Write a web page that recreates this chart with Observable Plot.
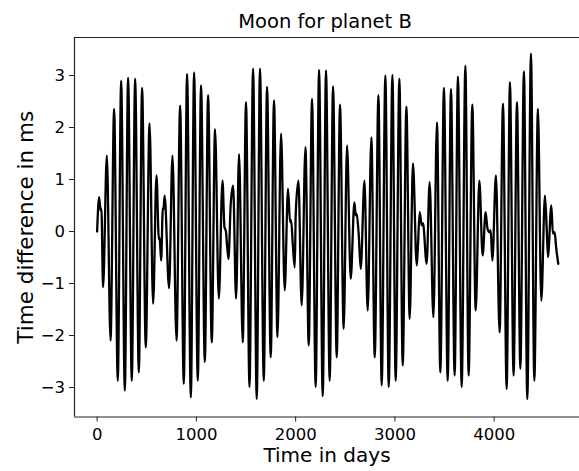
<!DOCTYPE html>
<html>
<head>
<meta charset="utf-8">
<script src="https://cdn.jsdelivr.net/npm/d3@7"></script>
<script src="https://cdn.jsdelivr.net/npm/@observablehq/plot@0.6"></script>
<style>
  html, body { margin: 0; padding: 0; background: #fff; }
</style>
</head>
<body>
<div id="chart"></div>
<script>
// Time in days (extrema and kinks)
const days = [0,20,35,43,60,98,135,171,208,242,279,312,349,383,420,453,490,528,564,598,622,630,645,662,668,680,
  725,759,800,836,873,906,944,977,1014,1047,1085,1118,1155,1188,1226,1263,1283,1296,1323,1346,1370,
  1400,1430,1467,1500,1535,1571,1608,1641,1679,1712,1749,1782,1817,1853,1890,1923,1944,1955,1971,1991,2001,2028,
  2061,2099,2132,2165,2202,2236,2273,2306,2343,2377,2414,2447,2484,2518,2555,2592,2605,2615,2635,2656,2693,
  2726,2763,2797,2834,2867,2904,2938,2975,3008,3045,3079,3116,3149,3182,3220,3230,3250,3270,3283,3320,3350,
  3388,3424,3458,3494,3532,3565,3602,3635,3673,3710,3743,3780,3814,3851,3884,3914,3931,3948,3965,3982,4018,
  4055,4089,4126,4159,4196,4230,4264,4300,4334,4371,4405,4441,4475,4512,4529,4542,4576,4592,4609,4626,4646];
// Time difference in ms
const ms = [0,0.66,0.40,0.44,-1.07,1.46,-2.10,2.36,-2.87,2.90,-3.06,2.96,-2.87,2.94,-2.71,2.76,-2.23,2.08,-1.39,1.08,-0.15,-0.12,-0.56,0.45,0.42,0.69,
  -1.09,1.46,-2.10,2.42,-2.93,3.03,-3.19,3.06,-2.87,2.81,-2.51,2.62,-2.13,1.97,-1.29,0.98,0.08,0.02,-0.53,0.53,0.88,
  -1.29,1.49,-2.13,2.49,-2.99,3.13,-3.22,3.13,-2.87,2.78,-2.42,2.52,-2.03,1.88,-1.13,0.82,0.18,0.22,-0.24,-0.69,0.34,0.98,
  -1.42,1.62,-2.19,2.55,-2.99,3.11,-3.17,3.10,-2.87,2.79,-2.42,2.44,-1.87,1.65,-0.91,0.56,0.31,0.34,-0.04,-0.72,0.98,
  -1.52,1.81,-2.42,2.62,-2.96,3.00,-2.99,3.01,-2.87,2.94,-2.58,2.40,-1.68,1.31,-0.65,-0.37,0.37,0.12,0.16,-0.62,0.95,
  -1.65,2.10,-2.71,2.76,-2.87,2.74,-2.77,2.98,-2.99,3.19,-2.77,2.44,-1.52,0.98,-0.46,0.37,0.08,-0.01,0.02,-0.56,1.08,
  -1.94,2.46,-3.03,2.87,-2.77,2.49,-2.64,3.08,-3.22,3.42,-2.87,2.36,-1.33,0.69,0.08,-0.49,0.50,-0.04,-0.01,-0.33,-0.62];

const xTicks = [0, 1000, 2000, 3000, 4000];
const yTicks = [-3, -2, -1, 0, 1, 2, 3];
const title = "Moon for planet B";
const xLabel = "Time in days";
const yLabel = "Time difference in ms";

const data = days.map((d, i) => ({day: d, val: ms[i]}));

const xDom = [-228, 4860];
const yDom = [-3.567, 3.731];

const chart = Plot.plot({
  width: 579,
  height: 471,
  marginLeft: 74,
  marginRight: 0,
  marginTop: 37,
  marginBottom: 54.5,
  style: {fontFamily: "DejaVu Sans", background: "#fff", color: "#000", overflow: "visible"},
  x: {domain: xDom},
  y: {domain: yDom},
  marks: [
    Plot.axisX({ticks: xTicks, tickSize: 5, tickPadding: 6, fontSize: 16.5, label: null, tickFormat: d => String(d), stroke: "#222"}),
    Plot.axisY({ticks: yTicks, tickSize: 5, tickPadding: 4.5, fontSize: 16.5, label: null, stroke: "#222"}),
    Plot.ruleX([xDom[0]], {stroke: "#222", strokeWidth: 1.2}),
    Plot.ruleY([yDom[0], yDom[1]], {stroke: "#222", strokeWidth: 1.2}),
    Plot.line(data, {x: "day", y: "val", stroke: "#000", strokeWidth: 2.3, curve: "monotone-x"}),
    Plot.text([title], {frameAnchor: "top", dy: -9.7, lineAnchor: "bottom", textAnchor: "middle", dx: -2, fontSize: 19.5, fill: "#000"}),
    Plot.text([xLabel], {frameAnchor: "bottom", dy: 45, lineAnchor: "bottom", textAnchor: "middle", fontSize: 20, fill: "#000"}),
    Plot.text([yLabel], {frameAnchor: "left", dx: -42, rotate: -90, lineAnchor: "bottom", textAnchor: "middle", fontSize: 21.5, fill: "#000"})
  ]
});
document.getElementById("chart").appendChild(chart);
</script>
</body>
</html>
